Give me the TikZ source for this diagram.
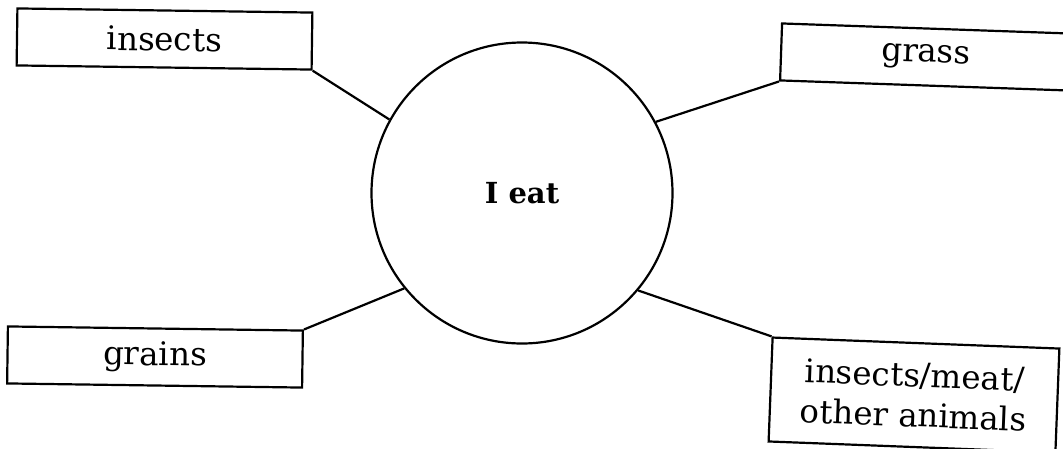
\documentclass[tikz,border=0pt]{standalone}
\usepackage{fontspec}
\setmainfont{DejaVu Serif}
\begin{document}
\begin{tikzpicture}[x=1pt,y=-1pt,
  labelbox/.style={draw=black, line width=2.2pt, fill=white, inner sep=0pt,
    align=center, font=\fontsize{32.5}{40}\selectfont},
  hub/.style={draw=black, line width=2.2pt, circle, inner sep=0pt,
    minimum size=301pt, font=\fontsize{29}{36}\selectfont\bfseries},
  link/.style={draw=black, line width=2.2pt}]
\useasboundingbox[fill=white] (0,0) rectangle (1063,448);
\node[hub] (c) at (522,193) {I eat};
\node[labelbox, minimum width=295pt, minimum height=57pt, rotate=-0.8] (ins) at (164.5,39) {insects};
\node[labelbox, minimum width=290pt, minimum height=57pt, rotate=-2] (gra) at (926,57) {grass};
\node[labelbox, minimum width=295pt, minimum height=57pt, rotate=-0.8] (grn) at (155,357) {grains};
\node[labelbox, minimum width=287pt, minimum height=104pt, rotate=-2.2] (meat) at (914,395) {insects/meat/\\other animals};
\draw[link] (ins.south east) -- (c.151);
\draw[link] (gra.south west) -- (c.28);
\draw[link] (grn.north east) -- (c.219);
\draw[link] (meat.north west) -- (c.320);
\end{tikzpicture}
\end{document}
